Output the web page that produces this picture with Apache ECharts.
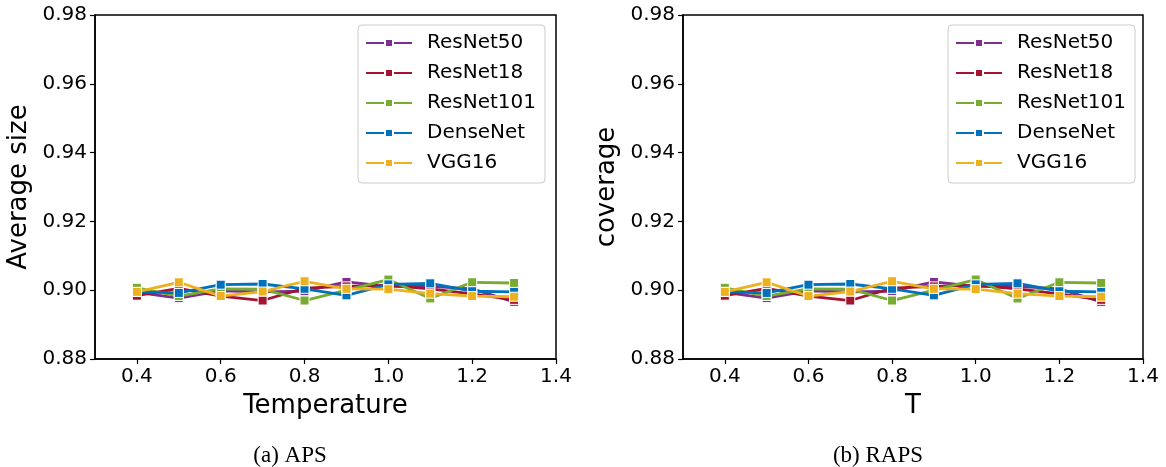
<!DOCTYPE html>
<html>
<head>
<meta charset="utf-8">
<script src="https://cdn.jsdelivr.net/npm/echarts@6/dist/echarts.min.js"></script>
<style>
  html, body { margin: 0; padding: 0; background: #fff; }
  #chart { width: 1166px; height: 467px; }
</style>
</head>
<body>
<div id="chart"></div>
<script>
// temperature values (x)
const tVals = [0.4, 0.5, 0.6, 0.7, 0.8, 0.9, 1.0, 1.1, 1.2, 1.3];

// same curves appear in both panels
const resnet50  = [0.8994, 0.8977, 0.8998, 0.8995, 0.8997, 0.9024, 0.9011, 0.9011, 0.9004, 0.8966];
const resnet18  = [0.8984, 0.9005, 0.8983, 0.8970, 0.9006, 0.9011, 0.9014, 0.9004, 0.8989, 0.8972];
const resnet101 = [0.9007, 0.8983, 0.9004, 0.9003, 0.8970, 0.9000, 0.9031, 0.8976, 0.9023, 0.9021];
const densenet  = [0.8995, 0.8992, 0.9016, 0.9018, 0.9004, 0.8985, 0.9017, 0.9020, 0.8997, 0.8995];
const vgg16     = [0.8995, 0.9023, 0.8983, 0.8996, 0.9026, 0.9004, 0.9003, 0.8990, 0.8983, 0.8981];

const xTicks = [0.4, 0.6, 0.8, 1.0, 1.2, 1.4];
const yTicks = [0.88, 0.90, 0.92, 0.94, 0.96, 0.98];

const names = ['ResNet50', 'ResNet18', 'ResNet101', 'DenseNet', 'VGG16'];
const colors = ['#7E2F8E', '#A2142F', '#77AC30', '#0072BD', '#EDB120'];
const allData = [resnet50, resnet18, resnet101, densenet, vgg16];

const font = 'DejaVu Sans';

function makeX(idx, name) {
    return {
        type: 'value', gridIndex: idx, min: 0.3, max: 1.4,
        name: name, nameLocation: 'middle', nameGap: 34,
        nameTextStyle: { fontFamily: font, fontSize: 26, color: '#000' },
        axisLine: { show: true, onZero: false, lineStyle: { color: '#000', width: 1.5 } },
        axisTick: { show: true, customValues: xTicks, length: 5, lineStyle: { color: '#000', width: 1.2 } },
        axisLabel: { customValues: xTicks, fontFamily: font, fontSize: 20, color: '#000', margin: 8,
            formatter: v => v.toFixed(1) },
        splitLine: { show: false }
    };
}

function makeY(idx, name) {
    return {
        type: 'value', gridIndex: idx, min: 0.88, max: 0.98,
        name: name, nameLocation: 'middle', nameGap: 63,
        nameTextStyle: { fontFamily: font, fontSize: 26, color: '#000' },
        axisLine: { show: true, onZero: false, lineStyle: { color: '#000', width: 1.5 } },
        axisTick: { show: true, customValues: yTicks, length: 5, lineStyle: { color: '#000', width: 1.2 } },
        axisLabel: { customValues: yTicks, fontFamily: font, fontSize: 20, color: '#000', margin: 8,
            formatter: v => v.toFixed(2) },
        splitLine: { show: false }
    };
}

function makeSeries(idx) {
    return names.map((n, i) => ({
        name: n,
        type: 'line',
        xAxisIndex: idx,
        yAxisIndex: idx,
        data: tVals.map((t, j) => [t, allData[i][j]]),
        symbol: 'rect',
        symbolSize: 9,
        showAllSymbol: true,
        lineStyle: { color: colors[i], width: 2.8 },
        itemStyle: { color: colors[i], borderColor: '#fff', borderWidth: 1 },
        animation: false
    }));
}

function makeLegend(left) {
    return {
        data: names,
        orient: 'vertical',
        left: left,
        top: 25,
        itemWidth: 46,
        itemHeight: 10,
        itemGap: 8,
        padding: [7, 9, 9, 7],
        borderColor: '#cccccc',
        borderWidth: 1,
        borderRadius: 4,
        textStyle: { fontFamily: font, fontSize: 20, color: '#000', lineHeight: 22, padding: [0, 0, 0, 10] }
    };
}

const chart = echarts.init(document.getElementById('chart'));

chart.setOption({
    backgroundColor: '#fff',
    animation: false,
    grid: [
        { left: 95, right: 610, top: 15, bottom: 108, show: true, borderColor: '#000', borderWidth: 1.5 },
        { left: 683, right: 23, top: 15, bottom: 108, show: true, borderColor: '#000', borderWidth: 1.5 }
    ],
    xAxis: [makeX(0, 'Temperature'), makeX(1, 'T')],
    yAxis: [makeY(0, 'Average size'), makeY(1, 'coverage')],
    legend: [makeLegend(358), makeLegend(948)],
    series: makeSeries(0).concat(makeSeries(1)),
    graphic: [
        { type: 'text', x: 290, y: 456, style: { text: '(a) APS', font: '23px "Liberation Serif"', fill: '#000', textAlign: 'center', textVerticalAlign: 'middle' } },
        { type: 'text', x: 878, y: 456, style: { text: '(b) RAPS', font: '23px "Liberation Serif"', fill: '#000', textAlign: 'center', textVerticalAlign: 'middle' } }
    ]
});
</script>
</body>
</html>
